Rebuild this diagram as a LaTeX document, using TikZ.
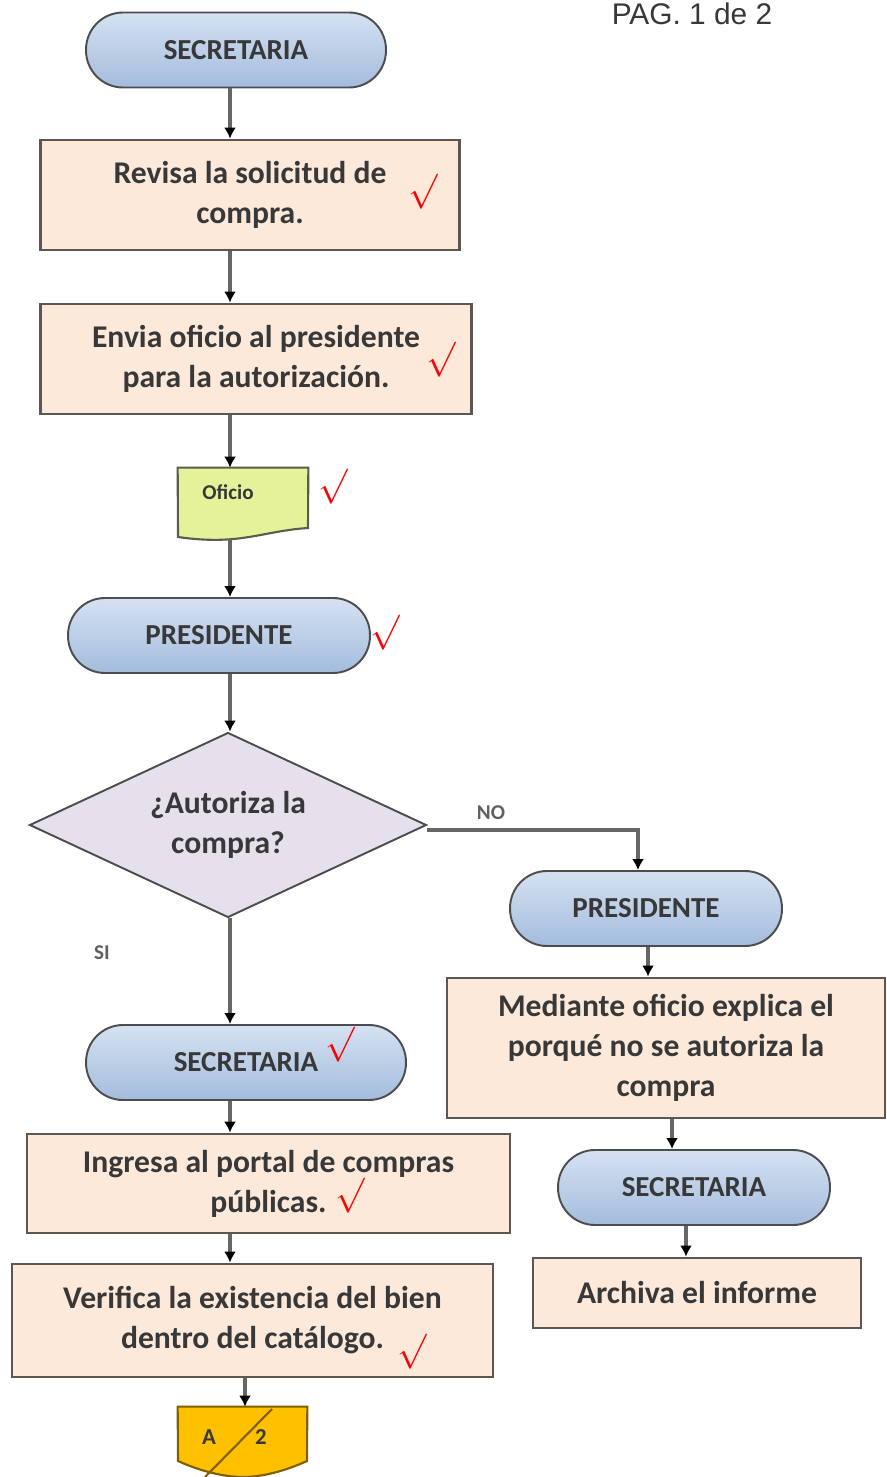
\documentclass[tikz,border=0pt]{standalone}
\usepackage{fontspec}
\setmainfont{Carlito}
\newfontfamily\pagfont{Liberation Sans}
\usetikzlibrary{shapes.geometric,arrows.meta}

\definecolor{boxfill}{HTML}{FCE9DA}
\definecolor{boxline}{HTML}{5E5652}
\definecolor{termtop}{HTML}{D5E2F2}
\definecolor{termbot}{HTML}{A3BCDC}
\definecolor{termline}{HTML}{4D4D4D}
\definecolor{decfill}{HTML}{E5E0EC}
\definecolor{docfill}{HTML}{E6F29A}
\definecolor{docline}{HTML}{5C5C4C}
\definecolor{offfill}{HTML}{FFC000}
\definecolor{offline}{HTML}{7F6000}
\definecolor{txt}{HTML}{383838}
\definecolor{wirecol}{HTML}{666666}

\begin{document}
\begin{tikzpicture}[x=0.02cm, y=-0.02cm, >={Latex[length=0.22cm,width=0.24cm,color=black]}]
    \tikzstyle{term}=[draw=termline, line width=1.1pt, rounded corners=0.74cm, minimum height=1.5cm, inner sep=0pt, top color=termtop, bottom color=termbot, text=txt, font=\fontsize{16.5}{18}\selectfont\bfseries];
    \tikzstyle{proc}=[draw=boxline, line width=1.6pt, fill=boxfill, inner sep=0pt, align=center, text=txt, font=\fontsize{18}{22.8}\selectfont\bfseries];
    \tikzstyle{decision}=[draw=termline, line width=1.1pt, fill=decfill, diamond, inner sep=0pt];
    \tikzstyle{dectext}=[align=center, text=txt, font=\fontsize{18}{22.8}\selectfont\bfseries];
    \tikzstyle{wire}=[->, draw=wirecol, line width=2pt];
    \tikzstyle{tick}=[text=red, scale=2, inner sep=0pt];
    \tikzstyle{tag}=[text=txt!80, font=\fontsize{12}{14}\selectfont\bfseries];

    \useasboundingbox (0,0) rectangle (886,1477);

    \node[text=txt, font=\pagfont\fontsize{17}{19}\selectfont] (pag) at (692,14) {PAG. 1 de 2};

    % columna izquierda
    \node[term, minimum width=6cm] (sec1) at (236,50) {SECRETARIA};
    \node[proc, minimum width=8.38cm, minimum height=2.2cm] (rev) at (250,195) {Revisa la solicitud de\\compra.};
    \node[proc, minimum width=8.62cm, minimum height=2.2cm] (env) at (256,359) {Envia oficio al presidente\\para la autorización.};

    \node[minimum width=2.6cm, minimum height=1.46cm, inner sep=0pt] (ofi) at (243,504.5) {};
    \filldraw[fill=docfill, draw=docline, line width=1.2pt] (ofi.north west) -- (ofi.north east) -- (308,528)
        .. controls (262,531) and (240,546) .. (178,537) -- cycle;
    \node[text=txt, font=\fontsize{12}{14}\selectfont\bfseries] (ofitxt) at (228,492) {Oficio};

    \node[term, minimum width=6.04cm] (pres1) at (219,635.5) {PRESIDENTE};
    \node[decision, minimum width=7.94cm, minimum height=3.7cm] (dec) at (228,825) {};
    \node[dectext] (dectxt) at (dec.center) {¿Autoriza la\\compra?};
    \node[tag] (no) at (491,813) {NO};
    \node[tag] (si) at (102,953) {SI};

    \node[term, minimum width=6.4cm] (sec2) at (246,1062.5) {SECRETARIA};
    \node[proc, minimum width=9.66cm, minimum height=1.98cm] (ing) at (268.5,1183.5) {Ingresa al portal de compras\\públicas.};
    \node[proc, minimum width=9.62cm, minimum height=2.26cm] (ver) at (252.5,1320.5) {Verifica la existencia del bien\\dentro del catálogo.};

    \node[minimum width=2.58cm, minimum height=1.4cm, inner sep=0pt] (off) at (242.5,1442) {};
    \filldraw[fill=offfill, draw=offline, line width=1.2pt] (off.north west) -- (off.north east) -- (307,1461)
        .. controls (285,1471) and (262,1477) .. (243,1477) .. controls (224,1477) and (200,1471) .. (178,1461) -- cycle;
    \draw[offline, line width=1.2pt] (272,1409) -- (205,1477);
    \node[text=txt, font=\fontsize{13}{15}\selectfont\bfseries] (offa) at (209,1437) {A};
    \node[text=txt, font=\fontsize{13}{15}\selectfont\bfseries] (offb) at (261,1437) {2};

    % columna derecha
    \node[term, minimum width=5.44cm] (pres2) at (646,908.5) {PRESIDENTE};
    \node[proc, minimum width=8.76cm, minimum height=2.8cm] (med) at (666,1048) {Mediante oficio explica el\\porqué no se autoriza la\\compra};
    \node[term, minimum width=5.44cm] (sec3) at (694,1187.5) {SECRETARIA};
    \node[proc, minimum width=6.56cm, minimum height=1.4cm] (arch) at (697,1293) {Archiva el informe};

    % marcas de revision
    \node[tick] (chk1) at (423,192) {$\surd$};
    \node[tick] (chk2) at (441,360) {$\surd$};
    \node[tick] (chk3) at (333,487) {$\surd$};
    \node[tick] (chk4) at (385,633) {$\surd$};
    \node[tick] (chk5) at (340,1045) {$\surd$};
    \node[tick] (chk6) at (350,1196) {$\surd$};
    \node[tick] (chk7) at (412,1352) {$\surd$};

    % conectores
    \coordinate (spine) at (230,0);
    \coordinate (nocol) at (638,0);
    \coordinate (medin) at (648,0);
    \coordinate (medout) at (672,0);
    \coordinate (archin) at (686,0);
    \coordinate (offin) at (245,0);

    \draw[wire] (sec1.south -| spine) -- (rev.north -| spine);
    \draw[wire] (rev.south -| spine) -- (env.north -| spine);
    \draw[wire] (env.south -| spine) -- (ofi.north -| spine);
    \draw[wire] (230,539) -- (pres1.north -| spine);
    \draw[wire] (pres1.south -| spine) -- (dec.north -| spine);
    \draw[wire] (dec.south -| spine) -- (sec2.north -| spine);
    \draw[wire] (sec2.south -| spine) -- (ing.north -| spine);
    \draw[wire] (ing.south -| spine) -- (ver.north -| spine);
    \draw[wire] (ver.south -| offin) -- (off.north -| offin);

    \draw[wire] ([yshift=-0.1cm]dec.east) -| (pres2.north -| nocol);
    \draw[wire] (pres2.south -| medin) -- (med.north -| medin);
    \draw[wire] (med.south -| medout) -- (sec3.north -| medout);
    \draw[wire] (sec3.south -| archin) -- (arch.north -| archin);
\end{tikzpicture}
\end{document}
